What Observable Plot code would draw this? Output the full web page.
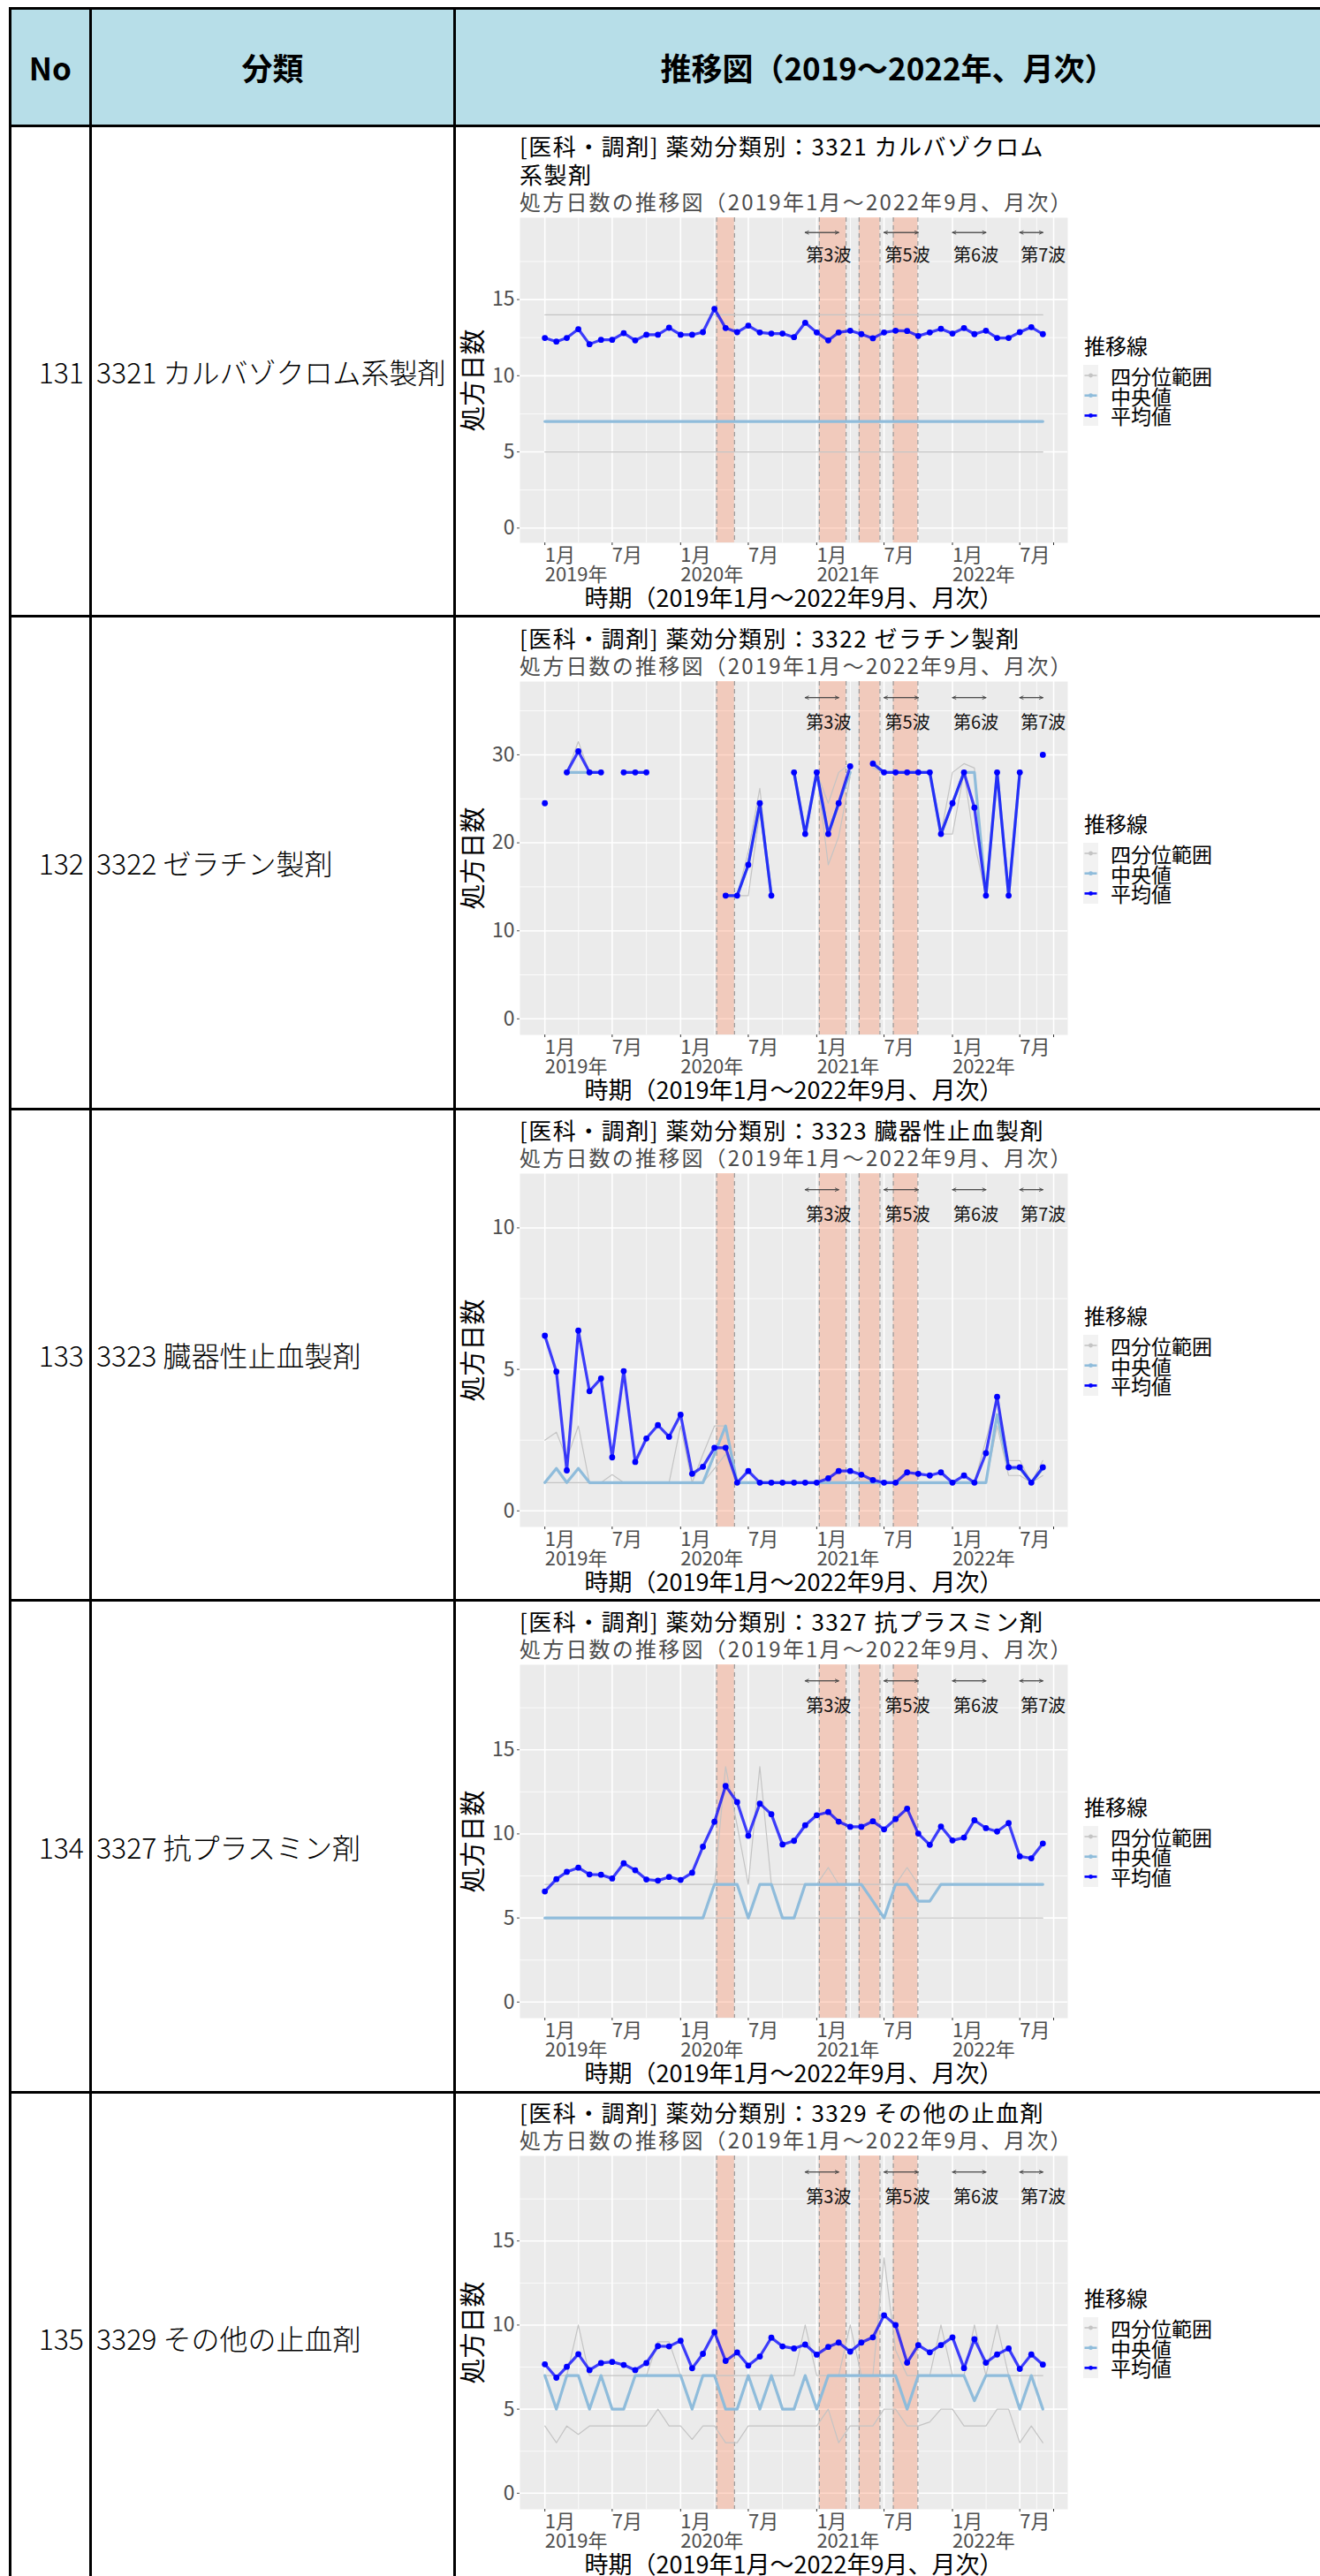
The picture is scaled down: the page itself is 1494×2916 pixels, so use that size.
<!DOCTYPE html>
<html><head><meta charset="utf-8">
<script src="https://cdn.jsdelivr.net/npm/d3@7"></script>
<script src="https://cdn.jsdelivr.net/npm/@observablehq/plot@0.6"></script>
<style>
body{margin:0;background:#fff;width:1494px;height:2916px;position:relative;overflow:hidden;font-family:"Noto Sans CJK JP","Noto Sans",sans-serif;color:#000}
.a{position:absolute;white-space:pre}
.bl{position:absolute;background:#000}
</style></head><body>
<script>
// ---------- table content ----------
const headerTexts = ["No", "分類", "推移図（2019～2022年、月次）"];
const rowNos = ["131", "132", "133", "134", "135"];
const categories = ["3321 カルバゾクロム系製剤", "3322 ゼラチン製剤", "3323 臓器性止血製剤", "3327 抗プラスミン剤", "3329 その他の止血剤"];
const chartTitles = [
  ["[医科・調剤] 薬効分類別：3321 カルバゾクロム", "系製剤"],
  ["[医科・調剤] 薬効分類別：3322 ゼラチン製剤"],
  ["[医科・調剤] 薬効分類別：3323 臓器性止血製剤"],
  ["[医科・調剤] 薬効分類別：3327 抗プラスミン剤"],
  ["[医科・調剤] 薬効分類別：3329 その他の止血剤"]
];
const subtitle = "処方日数の推移図（2019年1月～2022年9月、月次）";
const xTitle = "時期（2019年1月～2022年9月、月次）";
const yTitle = "処方日数";
const legendTitle = "推移線";
const legendItems = ["四分位範囲", "中央値", "平均値"];

// ---------- x axis ----------
const firstMonth = "2019-01-01", lastMonth = "2022-09-01";
const xBreaks = ["2019-01-01","2019-07-01","2020-01-01","2020-07-01","2021-01-01","2021-07-01","2022-01-01","2022-07-01","2022-09-30"];
const xBreakLabels = ["1月\n2019年","7月","1月\n2020年","7月","1月\n2021年","7月","1月\n2022年","7月",""];

// ---------- annotations ----------
const emergencyStart = ["2020-04-07","2021-01-08","2021-04-25","2021-07-26"];
const emergencyEnd   = ["2020-05-25","2021-03-21","2021-06-20","2021-09-30"];
const waveNames = ["第3波","第5波","第6波","第7波"];
const waveStart = ["2020-12-01","2021-07-01","2022-01-01","2022-07-01"];
const waveEnd   = ["2021-03-01","2021-10-01","2022-04-01","2022-09-01"];

// ---------- series (45 months, Jan 2019 - Sep 2022) ----------
const mean3321 = [12.48,12.24,12.48,13.06,12.07,12.36,12.36,12.80,12.32,12.69,12.69,13.15,12.69,12.69,12.86,14.39,13.13,12.86,13.29,12.84,12.77,12.77,12.53,13.48,12.84,12.32,12.84,12.96,12.73,12.46,12.84,12.96,12.94,12.61,12.84,13.08,12.77,13.13,12.73,12.96,12.48,12.48,12.86,13.19,12.73];
const med3321 = [7,7,7,7,7,7,7,7,7,7,7,7,7,7,7,7,7,7,7,7,7,7,7,7,7,7,7,7,7,7,7,7,7,7,7,7,7,7,7,7,7,7,7,7,7];
const q1_3321 = [5,5,5,5,5,5,5,5,5,5,5,5,5,5,5,5,5,5,5,5,5,5,5,5,5,5,5,5,5,5,5,5,5,5,5,5,5,5,5,5,5,5,5,5,5];
const q3_3321 = [14,14,14,14,14,14,14,14,14,14,14,14,14,14,14,14,14,14,14,14,14,14,14,14,14,14,14,14,14,14,14,14,14,14,14,14,14,14,14,14,14,14,14,14,14];

const mean3322 = [24.5,null,28,30.4,28,28,null,28,28,28,null,null,null,null,null,null,14,14,17.5,24.5,14,null,28,21,28,21,24.5,28.7,null,29,28,28,28,28,28,21,24.5,28,24,14,28,14,28,null,30];
const med3322  = [24.5,null,28,28,28,28,null,28,28,28,null,null,null,null,null,null,14,14,17.5,24.5,14,null,28,21,28,21,24.5,28,null,29,28,28,28,28,28,21,24.5,28,28,14,28,14,28,null,30];
const q1_3322  = [24.5,null,28,28,28,28,null,28,28,28,null,null,null,null,null,null,14,14,14,23.5,14,null,28,21,28,17.5,20.7,27.5,null,28.5,28,28,28,28,28,21,21,28,20,14,28,14,28,null,30];
const q3_3322  = [24.5,null,28,31.5,28,28,null,28,28,28,null,null,null,null,null,null,14,14,19,26.2,14,null,28,21,28,24.5,28,29,null,29.4,28,28,28,28,28,21,28,29,28.5,14,28,14,28,null,30];

const mean3323 = [6.19,4.92,1.43,6.37,4.23,4.68,1.89,4.94,1.73,2.56,3.03,2.62,3.40,1.31,1.56,2.23,2.23,1.0,1.41,1.0,1.0,1.0,1.0,1.0,1.0,1.15,1.41,1.41,1.28,1.09,1.0,1.0,1.36,1.31,1.25,1.36,1.0,1.25,1.0,2.04,4.03,1.54,1.54,1.0,1.54];
const med3323  = [1,1.5,1,1.5,1,1,1,1,1,1,1,1,1,1,1,2,3,1,1,1,1,1,1,1,1,1,1,1,1,1,1,1,1,1,1,1,1,1,1,1,3.4,1.5,1.5,1,1.5];
const q1_3323  = [1,1,1,1,1,1,1,1,1,1,1,1,1,1,1,1.5,2,1,1,1,1,1,1,1,1,1,1,1,1,1,1,1,1,1,1,1,1,1,1,1,3,1.25,1.25,1,1.25];
const q3_3323  = [2.5,2.78,1.84,3.0,1,1,1.28,1,1,1,1,1,3.0,1,2.0,3.0,3.0,1,1,1,1,1,1,1,1,1,1,1,1.28,1,1,1,1,1,1,1,1,1,1,2.5,4.0,1.78,1.78,1,1.78];

const mean3327 = [6.58,7.31,7.74,7.99,7.59,7.57,7.35,8.25,7.84,7.29,7.22,7.44,7.26,7.69,9.24,10.72,12.85,11.89,9.89,11.80,11.17,9.37,9.59,10.51,11.11,11.30,10.73,10.42,10.42,10.75,10.27,10.88,11.50,10.02,9.35,10.44,9.61,9.78,10.81,10.34,10.14,10.64,8.66,8.55,9.43];
const med3327  = [5,5,5,5,5,5,5,5,5,5,5,5,5,5,5,7,7,7,5,7,7,5,5,7,7,7,7,7,7,6,5,7,7,6,6,7,7,7,7,7,7,7,7,7,7];
const q1_3327  = [5,5,5,5,5,5,5,5,5,5,5,5,5,5,5,5,5,5,5,5,5,5,5,5,5,5,5,5,5,5,5,5,5,5,5,5,5,5,5,5,5,5,5,5,5];
const q3_3327  = [7,7,7,7,7,7,7,7,7,7,7,7,7,7,7,7,14,10.5,7,14,7,7,7,7,7,8,7,7,7,7,7,7,8,7,7,7,7,7,7,7,7,7,7,7,7];

const mean3329 = [7.67,6.87,7.52,8.27,7.32,7.74,7.81,7.63,7.32,7.74,8.75,8.73,9.07,7.43,8.29,9.58,7.87,8.37,7.59,8.13,9.25,8.73,8.61,8.84,8.24,8.70,8.96,8.42,8.96,9.27,10.58,10.0,7.76,8.81,8.38,8.81,9.27,7.44,9.16,7.76,8.25,8.61,7.39,8.25,7.65];
const med3329  = [7,5,7,7,5,7,5,5,7,7,7,7,7,5,7,7,5,5,7,5,7,5,5,7,5,7,7,7,7,7,7,7,5,7,7,7,7,7,5.5,7,7,7,5,7,5];
const q1_3329  = [4,3,4,3.5,4,4,4,4,4,4,5,4,4,3.2,4,4,3,3,4,4,4,4,4,4,4,5,3,4,4,4,5,5,4,4,4.24,5,5,4,4,4,5,5,3,4,3];
const q3_3329  = [7,7,7,10,7,7,7,7,7,7,9,9,7,7,7,7,7,7,7,7,7,7,7,10,7,7,7,10,7,7,14,8.5,7,7,7,10,7,7,10,7,10,7,7,7,7];

const seriesMean = [mean3321, mean3322, mean3323, mean3327, mean3329];
const seriesMed  = [med3321, med3322, med3323, med3327, med3329];
const seriesQ1   = [q1_3321, q1_3322, q1_3323, q1_3327, q1_3329];
const seriesQ3   = [q3_3321, q3_3322, q3_3323, q3_3327, q3_3329];
const yTickValues = [[0,5,10,15],[0,10,20,30],[0,5,10],[0,5,10,15],[0,5,10,15]];
const annotTop = [19.4, 36.5, 11.35, 19.1, 19.1];   // height of the wave arrows (data units)

// ---------- layout ----------
const hBorders = [9.5, 142.5, 697, 1255, 1811.5, 2368];
const vBorders = [11, 102.5, 514.5];
const rowBounds = [[142.5,697],[697,1255],[1255,1811.5],[1811.5,2368],[2368,2924]];
const panelTops = [246, 771, 1328, 1883.5, 2440];
const panelHeights = [368, 400, 400, 400, 400];

const C = {
  header: "#b7dee8", panel: "#ebebeb", iqr: "#c4c4c4", median: "#8fbcdb", mean: "#0000ff",
  rect: "#ff7f50", dash: "#9a9a9a", axisText: "#4d4d4d"
};
const FONT = '"Noto Sans CJK JP","Noto Sans",sans-serif';

function el(tag, cls, css, text) {
  const e = document.createElement(tag);
  if (cls) e.className = cls;
  Object.assign(e.style, css);
  if (text != null) e.textContent = text;
  document.body.appendChild(e);
  return e;
}

// header background
el("div", "a", {left: "11px", top: "9.5px", width: "1490px", height: "133px", background: C.header});
// header texts
const hdrCols = [[12.5,101],[104,513],[516,1494]];
headerTexts.forEach((t, i) => {
  el("div", "a", {left: hdrCols[i][0] + "px", width: (hdrCols[i][1] - hdrCols[i][0]) + "px", top: "56px", height: "40px",
    lineHeight: "40px", textAlign: "center", fontSize: "35px", fontWeight: "bold"}, t);
});
// rows text
rowBounds.forEach((b, i) => {
  const cy = (b[0] + b[1]) / 2;
  el("div", "a", {left: "8px", width: "87px", top: (cy - 20) + "px", lineHeight: "40px", textAlign: "right",
    fontSize: "32px", fontWeight: "300"}, rowNos[i]);
  el("div", "a", {left: "109px", top: (cy - 20) + "px", lineHeight: "40px", fontSize: "32px", fontWeight: "300"}, categories[i]);
});
// borders
hBorders.forEach(y => el("div", "bl", {left: "9.5px", top: (y - 1.5) + "px", width: "1490px", height: "3px"}));
vBorders.forEach(x => el("div", "bl", {left: (x - 1.5) + "px", top: "8px", width: "3px", height: "2920px"}));

// ---------- charts ----------
const parse = s => new Date(s + "T00:00:00Z");
const months = d3.utcMonth.range(parse(firstMonth), d3.utcDay.offset(parse(lastMonth), 1));
const x0 = parse(firstMonth), x1 = parse(lastMonth);
const xPad = (x1 - x0) * 0.05;
const xDomain = [new Date(+x0 - xPad), new Date(+x1 + xPad)];
const xMajor = xBreaks.map(parse);
const xMinor = d3.pairs(xMajor).map(([a, b]) => new Date((+a + +b) / 2));
const xTickData = xMajor.map((d, i) => ({date: d, label: xBreakLabels[i]}));
const rects = emergencyStart.map((s, i) => ({start: parse(s), end: parse(emergencyEnd[i])}));
const dashDates = rects.flatMap(r => [r.start, r.end]);
const waves = waveNames.map((n, i) => ({name: n, start: parse(waveStart[i]), end: parse(waveEnd[i])}));
const num = v => (v == null ? NaN : v);

for (let k = 0; k < 5; k++) {
  const data = months.map((d, i) => ({date: d, mean: num(seriesMean[k][i]), med: num(seriesMed[k][i]), lo: num(seriesQ1[k][i]), hi: num(seriesQ3[k][i])}));
  const T = annotTop[k];
  const yDomain = [-0.05 * T, 1.05 * T];
  const yMajor = yTickValues[k];
  const step = yMajor[1] - yMajor[0];
  const yMinor = yMajor.map(v => v + step / 2).filter(v => v < yDomain[1]);
  const pH = panelHeights[k];
  const svg = Plot.plot({
    width: 708, height: 12 + pH + 85,
    marginLeft: 68, marginRight: 20, marginTop: 12, marginBottom: 85,
    x: {type: "utc", domain: xDomain},
    y: {domain: yDomain},
    style: {fontFamily: FONT, fontSize: "20px", background: "transparent", overflow: "visible", color: "#000"},
    marks: [
      Plot.frame({fill: C.panel, stroke: null}),
      Plot.gridY(yMinor, {stroke: "#fff", strokeOpacity: 1, strokeWidth: 0.8}),
      Plot.gridY(yMajor, {stroke: "#fff", strokeOpacity: 1, strokeWidth: 1.6}),
      Plot.gridX(xMinor, {stroke: "#fff", strokeOpacity: 1, strokeWidth: 0.8}),
      Plot.gridX(xMajor, {stroke: "#fff", strokeOpacity: 1, strokeWidth: 1.6}),
      Plot.rect(rects, {x1: "start", x2: "end", fill: C.rect, fillOpacity: 0.3}),
      Plot.ruleX(dashDates, {stroke: C.dash, strokeWidth: 1.2, strokeDasharray: "5,4"}),
      Plot.line(data, {x: "date", y: "lo", stroke: C.iqr, strokeWidth: 1.2}),
      Plot.line(data, {x: "date", y: "hi", stroke: C.iqr, strokeWidth: 1.2}),
      Plot.line(data, {x: "date", y: "med", stroke: C.median, strokeWidth: 3.2}),
      Plot.line(data, {x: "date", y: "mean", stroke: C.mean, strokeOpacity: 0.75, strokeWidth: 3.2}),
      Plot.dot(data, {x: "date", y: "mean", fill: C.mean, r: 3.4, stroke: null}),
      Plot.arrow(waves, {x1: "start", x2: "end", y1: () => T, y2: () => T, stroke: "#444", strokeWidth: 0.9, headLength: 7, headAngle: 50}),
      Plot.arrow(waves, {x1: "end", x2: "start", y1: () => T, y2: () => T, stroke: "#444", strokeWidth: 0.9, headLength: 7, headAngle: 50}),
      Plot.text(waves, {x: "start", y: () => 0.92 * T, text: "name", textAnchor: "start", dx: 1, fontSize: 20, fill: "#111"}),
      Plot.axisY(yMajor, {tickSize: 3, tickPadding: 3, fontSize: 23, color: C.axisText, label: null}),
      Plot.axisX(xMajor, {tickSize: 3, tickFormat: () => "", color: "#333", label: null}),
      Plot.text(xTickData, {x: "date", text: "label", frameAnchor: "bottom", dy: 6, textAnchor: "start", lineAnchor: "top", lineHeight: 1.0, fontSize: 22, fill: C.axisText}),
      Plot.text([xTitle], {text: d => d, frameAnchor: "bottom", dy: 64, textAnchor: "middle", lineAnchor: "middle", fontSize: 27, fill: "#000"}),
      Plot.text([yTitle], {text: d => d, frameAnchor: "left", dx: -52, rotate: -90, textAnchor: "middle", lineAnchor: "middle", fontSize: 29, fill: "#000"})
    ]
  });
  Object.assign(svg.style, {position: "absolute", left: "520px", top: (panelTops[k] - 12) + "px"});
  document.body.appendChild(svg);

  // titles (one div per line, centred on its line)
  const pt = panelTops[k];
  const lines = chartTitles[k];
  lines.forEach((ln, j) => {
    const c = pt - 49 - 32 * (lines.length - 1 - j);
    el("div", "a", {left: "588px", top: (c - 15) + "px", lineHeight: "30px", height: "30px", fontSize: "26px", letterSpacing: "1.5px"}, ln);
  });
  el("div", "a", {left: "588px", top: (pt - 18 - 14) + "px", lineHeight: "28px", height: "28px", fontSize: "24px", letterSpacing: "2.2px", color: C.axisText}, subtitle);

  // legend
  const cy = pt + pH / 2;
  el("div", "a", {left: "1227px", top: (cy - 39 - 15) + "px", lineHeight: "30px", fontSize: "24px"}, legendTitle);
  const ns = "http://www.w3.org/2000/svg";
  const key = document.createElementNS(ns, "svg");
  key.setAttribute("width", 17); key.setAttribute("height", 69);
  Object.assign(key.style, {position: "absolute", left: "1226px", top: (cy - 17) + "px"});
  const bg = document.createElementNS(ns, "rect");
  bg.setAttribute("width", 17); bg.setAttribute("height", 69); bg.setAttribute("fill", "#f2f2f2");
  key.appendChild(bg);
  const keyCols = [C.iqr, C.median, C.mean];
  const keyW = [1.6, 2.6, 2.6];
  keyCols.forEach((c, j) => {
    const yy = 12 + j * 22.7;
    const ln = document.createElementNS(ns, "line");
    ln.setAttribute("x1", 1.5); ln.setAttribute("x2", 15.5); ln.setAttribute("y1", yy); ln.setAttribute("y2", yy);
    ln.setAttribute("stroke", c); ln.setAttribute("stroke-width", keyW[j]);
    key.appendChild(ln);
    const dt = document.createElementNS(ns, "circle");
    dt.setAttribute("cx", 8.5); dt.setAttribute("cy", yy); dt.setAttribute("r", 2.4); dt.setAttribute("fill", c);
    key.appendChild(dt);
    el("div", "a", {left: "1257px", top: (cy - 17 + yy - 11) + "px", lineHeight: "22px", height: "22px", fontSize: "23px"}, legendItems[j]);
  });
  document.body.appendChild(key);
}
</script>
</body></html>
